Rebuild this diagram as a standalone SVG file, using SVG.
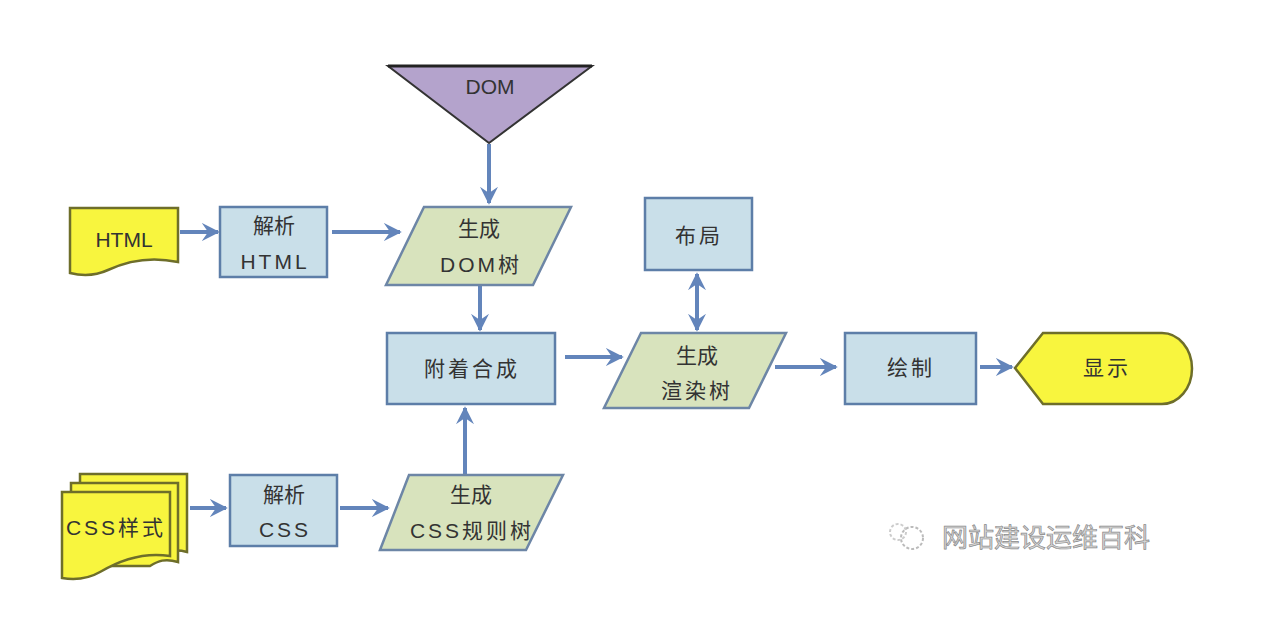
<svg xmlns="http://www.w3.org/2000/svg" width="1272" height="620" viewBox="0 0 1272 620">
<defs>
<style>
.t{font-family:"Liberation Sans","Noto Sans CJK SC",sans-serif;font-size:21px;fill:#333;text-anchor:middle;dominant-baseline:central}
.sp{letter-spacing:3px}
.box{fill:#c9dfe9;stroke:#5d7ea8;stroke-width:2.5}
.para{fill:#d8e3bd;stroke:#6d86a6;stroke-width:2.5}
.yel{fill:#f8f53e;stroke:#6e6e2a;stroke-width:2.5}
.c{stroke:#6385bb;stroke-width:4;fill:none}
.wm{font-family:"Noto Sans CJK SC",sans-serif;font-size:26px;fill:#d6d6d6;stroke:#8a8a8a;stroke-width:0.7}
</style>
<marker id="ah" viewBox="0 0 10 10" refX="9" refY="5" markerWidth="4.5" markerHeight="4.5" orient="auto-start-reverse">
<path d="M0,0 L10,5 L0,10 L3.5,5 z" fill="#6385bb"/>
</marker>
</defs>
<rect width="1272" height="620" fill="#ffffff"/>

<g id="connectors">
<line class="c" x1="489" y1="144" x2="489" y2="203" marker-end="url(#ah)"/>
<line class="c" x1="180" y1="232" x2="218" y2="232" marker-end="url(#ah)"/>
<line class="c" x1="332" y1="232" x2="400" y2="232" marker-end="url(#ah)"/>
<line class="c" x1="480" y1="286" x2="480" y2="330" marker-end="url(#ah)"/>
<line class="c" x1="465" y1="474" x2="465" y2="408" marker-end="url(#ah)"/>
<line class="c" x1="565" y1="357" x2="622" y2="357" marker-end="url(#ah)"/>
<line class="c" x1="697" y1="274" x2="697" y2="330" marker-start="url(#ah)" marker-end="url(#ah)"/>
<line class="c" x1="775" y1="367" x2="836" y2="367" marker-end="url(#ah)"/>
<line class="c" x1="980" y1="367" x2="1012" y2="367" marker-end="url(#ah)"/>
<line class="c" x1="190" y1="508" x2="226" y2="508" marker-end="url(#ah)"/>
<line class="c" x1="340" y1="508" x2="388" y2="508" marker-end="url(#ah)"/>
</g>

<g id="dom">
<polygon points="388,66 592,66 489,143" fill="#b4a3cc" stroke="#333" stroke-width="2"/>
<line x1="388" y1="66" x2="592" y2="66" stroke="#222" stroke-width="3"/>
<text class="t" x="490" y="86">DOM</text>
</g>

<g id="html">
<path class="yel" d="M70,208 H178 V262 C150,256 125,262 108,270 C95,276 82,276 70,273 Z"/>
<text class="t" x="124" y="239">HTML</text>
</g>

<g id="parse-html">
<rect class="box" x="220" y="207" width="107" height="70"/>
<text class="t" x="274" y="225">解析</text>
<text class="t sp" x="275" y="261">HTML</text>
</g>

<g id="gen-dom">
<polygon class="para" points="424,207 571,207 533,285 386,285"/>
<text class="t" x="479" y="228">生成</text>
<text class="t sp" x="481" y="264">DOM树</text>
</g>

<g id="attach">
<rect class="box" x="387" y="333" width="168" height="71"/>
<text class="t sp" x="472" y="368">附着合成</text>
</g>

<g id="layout">
<rect class="box" x="645" y="198" width="107" height="72"/>
<text class="t sp" x="699" y="235">布局</text>
</g>

<g id="gen-render">
<polygon class="para" points="641,333 786,333 749,408 604,408"/>
<text class="t" x="697" y="355">生成</text>
<text class="t sp" x="697" y="390">渲染树</text>
</g>

<g id="paint">
<rect class="box" x="845" y="333" width="131" height="71"/>
<text class="t sp" x="911" y="367">绘制</text>
</g>

<g id="display">
<path class="yel" d="M1015,368 L1043,333 H1162 A30,35.5 0 0 1 1162,404 H1043 Z"/>
<text class="t sp" x="1107" y="367">显示</text>
</g>

<g id="css">
<path class="yel" d="M80,474 H187 V552 C175,549 168,551 160,556 L80,556 Z"/>
<path class="yel" d="M71,483 H178 V562 C165,558 158,561 150,566 L71,566 Z"/>
<path class="yel" d="M62,492 H170 V556 C145,552 120,560 100,572 C88,579 75,580 62,578 Z"/>
<text class="t sp" x="116" y="527">CSS样式</text>
</g>

<g id="parse-css">
<rect class="box" x="230" y="475" width="107" height="71"/>
<text class="t" x="284" y="494">解析</text>
<text class="t sp" x="285" y="529">CSS</text>
</g>

<g id="gen-css">
<polygon class="para" points="409,475 563,475 526,550 380,550"/>
<text class="t" x="471" y="494">生成</text>
<text class="t sp" x="472" y="530">CSS规则树</text>
</g>

<g id="watermark">
<circle cx="912" cy="538" r="11" fill="none" stroke="#bbb" stroke-width="2" stroke-dasharray="3 2"/>
<circle cx="898" cy="532" r="8" fill="none" stroke="#ccc" stroke-width="2" stroke-dasharray="3 2"/>
<text class="wm" x="942" y="547">网站建设运维百科</text>
</g>
</svg>
